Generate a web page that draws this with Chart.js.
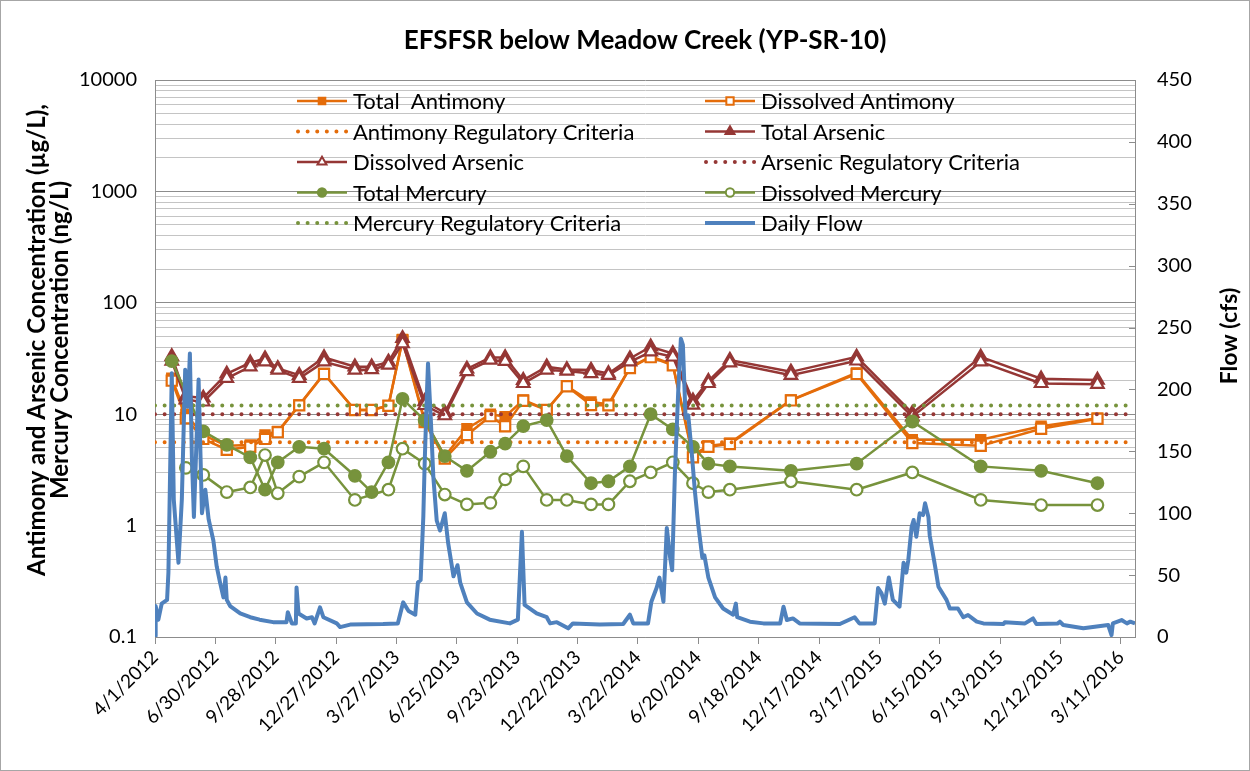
<!DOCTYPE html>
<html>
<head>
<meta charset="utf-8">
<title>EFSFSR below Meadow Creek (YP-SR-10)</title>
<script src="https://cdn.jsdelivr.net/npm/chart.js@4.4.0/dist/chart.umd.min.js"></script>
<style>
  html, body { margin: 0; padding: 0; background: #fff; }
  #wrap { width: 1250px; height: 771px; }
</style>
</head>
<body>
<div id="wrap"><canvas id="ysr10" width="1250" height="771"></canvas></div>
<script>
// sample dates and concentrations
var sampleDates = ['2012-04-26','2012-05-17','2012-06-12','2012-07-17','2012-08-21','2012-09-12','2012-10-01',
  '2012-11-02','2012-12-09','2013-01-24','2013-02-18','2013-03-15','2013-04-05','2013-05-08','2013-06-07',
  '2013-07-10','2013-08-14','2013-09-05','2013-10-02','2013-11-06','2013-12-06','2014-01-11','2014-02-06',
  '2014-03-10','2014-04-10','2014-05-13','2014-06-12','2014-07-05','2014-08-06','2014-11-05','2015-02-11',
  '2015-05-05','2015-08-15','2015-11-13','2016-02-05'];

var totalAntimony = [21, 10, 6.5, 5.2, 5.3, 6.5, 7.0, 12.1, 23.2, 10.9, 10.9, 11.9, 47, 8.8, 4.2,
  7.4, 10, 9.5, 13.4, 11.0, 17.9, 12.9, 12.3, 26.1, 33, 28, 4.3, 5.2, 5.5, 13.4, 23.5, 5.9, 5.9, 7.8, 9.2];
var dissolvedAntimony = [20, 9.2, 6.0, 4.8, 5.1, 6.0, 6.9, 12.0, 23.0, 10.9, 10.9, 11.9, 46, 8.5, 4.0,
  6.5, 9.6, 7.8, 13.2, 10.9, 17.8, 12.1, 12.0, 26.0, 32.5, 27.5, 4.1, 5.1, 5.4, 13.3, 23.0, 5.5, 5.2, 7.4, 9.1];
var totalArsenic = [33, 14.5, 14, 23, 29, 31.6, 25.8, 22.4, 32.3, 26.7, 26.7, 29.5, 48, 13, 10.3,
  25.5, 32.3, 32.3, 20.2, 26.7, 25.2, 24.9, 23.2, 31.6, 40.3, 35.1, 13.2, 19.8, 30.6, 24, 32.7, 10.2, 32.7, 20.8, 20.3];
var dissolvedArsenic = [30, 13.5, 12.9, 21, 26.7, 29.5, 24.9, 21, 29.5, 24.9, 25.2, 27.6, 43, 12, 9.7,
  24.2, 30.6, 29.8, 18.9, 24.9, 24.4, 23.2, 22.4, 29.5, 36.3, 32.7, 12.1, 18.9, 28.9, 22.4, 30.1, 9.5, 29.5, 18.9, 18.6];
var totalMercury = [30, null, 7.0, 5.3, 4.1, 2.1, 3.7, 5.1, 4.9, 2.8, 2.0, 3.7, 13.7, 8.8, 4.2,
  3.1, 4.6, 5.45, 7.8, 8.85, 4.2, 2.4, 2.5, 3.4, 10, 7.3, 5.1, 3.6, 3.4, 3.1, 3.6, 8.6, 3.4, 3.1, 2.4];
var dissolvedMercury = [null, 3.3, 2.85, 2.0, 2.2, 4.3, 1.95, 2.75, 3.7, 1.7, null, 2.1, 4.9, 3.6, 1.9,
  1.55, 1.6, 2.6, 3.4, 1.7, 1.7, 1.55, 1.55, 2.5, 3.0, 3.7, 2.4, 2.0, 2.1, 2.5, 2.1, 3.0, 1.7, 1.53, 1.53];

// regulatory criteria
var antimonyCriteria = 5.6;
var arsenicCriteria = 10;
var mercuryCriteria = 12;

// daily flow (cfs)
var flowDates = ['2012-04-01','2012-04-02','2012-04-06','2012-04-11','2012-04-19','2012-04-21','2012-04-26',
  '2012-04-29','2012-05-06','2012-05-11','2012-05-16','2012-05-20','2012-05-23','2012-05-26','2012-05-29',
  '2012-06-05','2012-06-10','2012-06-15','2012-06-20','2012-06-27','2012-07-02','2012-07-07','2012-07-12',
  '2012-07-15','2012-07-17','2012-07-22','2012-08-06','2012-08-21','2012-09-04','2012-09-24','2012-10-14',
  '2012-10-16','2012-10-22','2012-10-28','2012-10-29','2012-11-01','2012-11-13','2012-11-21','2012-11-25',
  '2012-12-03','2012-12-08','2012-12-28','2013-01-02','2013-01-17','2013-03-07','2013-03-29','2013-04-06',
  '2013-04-14','2013-04-24','2013-04-28','2013-05-02','2013-05-06','2013-05-08','2013-05-11','2013-05-13',
  '2013-05-17','2013-05-21','2013-05-26','2013-05-31','2013-06-07','2013-06-12','2013-06-20','2013-06-26',
  '2013-06-30','2013-07-10','2013-07-25','2013-08-13','2013-09-12','2013-09-24','2013-09-30','2013-10-04',
  '2013-10-22','2013-11-06','2013-11-11','2013-11-21','2013-12-08','2013-12-15','2014-01-24','2014-02-28',
  '2014-03-10','2014-03-15','2014-04-06','2014-04-11','2014-04-19','2014-04-23','2014-04-29','2014-05-04',
  '2014-05-09','2014-05-12','2014-05-16','2014-05-21','2014-05-25','2014-05-28','2014-06-01','2014-06-05',
  '2014-06-10','2014-06-15','2014-06-20','2014-06-26','2014-06-29','2014-07-05','2014-07-15','2014-07-27',
  '2014-08-11','2014-08-15','2014-08-17','2014-09-05','2014-09-25','2014-10-20','2014-10-25','2014-10-30',
  '2014-11-08','2014-11-18','2015-01-17','2015-02-08','2015-02-15','2015-03-10','2015-03-15','2015-03-20',
  '2015-03-25','2015-03-31','2015-04-06','2015-04-16','2015-04-22','2015-04-26','2015-04-29','2015-05-04',
  '2015-05-07','2015-05-11','2015-05-16','2015-05-21','2015-05-24','2015-05-29','2015-05-31','2015-06-08',
  '2015-06-13','2015-06-25','2015-06-30','2015-07-12','2015-07-20','2015-07-27','2015-08-09','2015-08-19',
  '2015-09-18','2015-09-20','2015-10-20','2015-11-01','2015-11-06','2015-12-08','2015-12-11','2015-12-16',
  '2016-01-15','2016-02-21','2016-02-26','2016-02-28','2016-03-12','2016-03-20','2016-03-25','2016-04-01'];
var flowValues = [1, 25, 14, 27, 30, 52, 213,
  111, 60, 111, 216, 186, 229, 145, 97,
  208, 100, 119, 95, 78, 57, 44, 32,
  48, 30, 25, 19, 16, 14, 12, 12,
  20, 11, 11, 40, 19, 15, 16, 11,
  24, 16, 11, 8, 10, 10.5, 11, 28,
  21, 18, 44, 46, 97, 140, 191, 221,
  178, 129, 94, 86, 100, 76, 49, 58,
  44, 28, 19, 14, 11, 14, 85, 26,
  19, 16, 11, 12, 7, 11, 10, 10.5,
  18, 11, 11, 28.5, 40, 48, 28.5, 88,
  64, 54, 131, 198, 241, 236, 177, 179,
  150, 117, 90, 64, 66, 48, 32, 23,
  18, 27, 16, 12.4, 11, 11, 24.5, 13.7,
  15, 11, 10.5, 16, 11, 11, 39.6, 35.5,
  27, 48, 30, 24.5, 60, 52, 62, 89,
  94.5, 81, 100, 98.5, 108, 97, 82, 57,
  40.6, 30, 23, 23, 16, 17.8, 12.4, 11,
  10.5, 12, 11, 15, 10.5, 11, 12.4, 9.7,
  7, 9.7, 1.6, 11, 13.7, 11, 12.4, 11];

// axes
var axisStart = '2012-04-01';
var axisEnd = '2016-04-01';
var dateTickStepDays = 90;
var leftDecades = [0.1, 1, 10, 100, 1000, 10000];
var rightMax = 450;
var rightStep = 50;

var chartTitle = 'EFSFSR below Meadow Creek (YP-SR-10)';
var leftTitle = ['Antimony and Arsenic Concentration (\u00b5g/L),', 'Mercury Concentration (ng/L)'];
var rightTitle = 'Flow (cfs)';

var orange = '#E46C0A', darkRed = '#953735', olive = '#77933C', flowBlue = '#4F81BD';
var FONT = 'Lato, "Open Sans", sans-serif';

function toDay(s) {
  var p = s.split('-');
  return Date.UTC(+p[0], +p[1] - 1, +p[2]) / 86400000;
}
function pairs(dates, vals) {
  return dates.map(function (d, i) { return { x: toDay(d), y: vals[i] }; });
}
function fmtDay(v) {
  var d = new Date(v * 86400000);
  return (d.getUTCMonth() + 1) + '/' + d.getUTCDate() + '/' + d.getUTCFullYear();
}

var xMin = toDay(axisStart), xMax = toDay(axisEnd);

function sampleSeries(label, vals, color, style, filled, r) {
  return {
    label: label, data: pairs(sampleDates, vals), yAxisID: 'y',
    borderColor: color, borderWidth: 2.5, spanGaps: true, tension: 0,
    pointStyle: style, pointRadius: r, pointBorderWidth: 2.2,
    pointBackgroundColor: filled ? color : '#ffffff', pointBorderColor: color,
    markerFilled: filled
  };
}
function criteriaSeries(label, value, color) {
  return {
    label: label, data: [{ x: xMin, y: value }, { x: xMax, y: value }], yAxisID: 'y',
    borderColor: color, borderWidth: 4, borderDash: [0.01, 9.6], borderCapStyle: 'round',
    pointRadius: 0
  };
}

var datasets = [
  sampleSeries('Total  Antimony', totalAntimony, orange, 'rect', true, 6.5),
  sampleSeries('Dissolved Antimony', dissolvedAntimony, orange, 'rect', false, 7.2),
  criteriaSeries('Antimony Regulatory Criteria', antimonyCriteria, orange),
  sampleSeries('Total Arsenic', totalArsenic, darkRed, 'triangle', true, 7.2),
  sampleSeries('Dissolved Arsenic', dissolvedArsenic, darkRed, 'triangle', false, 7.2),
  criteriaSeries('Arsenic Regulatory Criteria', arsenicCriteria, darkRed),
  sampleSeries('Total Mercury', totalMercury, olive, 'circle', true, 5.8),
  sampleSeries('Dissolved Mercury', dissolvedMercury, olive, 'circle', false, 5.8),
  criteriaSeries('Mercury Regulatory Criteria', mercuryCriteria, olive),
  {
    label: 'Daily Flow', data: pairs(flowDates, flowValues), yAxisID: 'y1',
    borderColor: flowBlue, borderWidth: 4, borderJoinStyle: 'round', pointRadius: 0, tension: 0
  }
];
// later series on top, flow drawn last
datasets.forEach(function (ds, i) { ds.order = datasets.length - i; });

function drawMarker(ctx, style, x, y, r, fill, stroke, bw) {
  ctx.beginPath();
  if (style === 'rect') {
    var s = r * Math.SQRT1_2;
    ctx.rect(x - s, y - s, 2 * s, 2 * s);
  } else if (style === 'triangle') {
    ctx.moveTo(x, y - r);
    ctx.lineTo(x + r * 0.866, y + r * 0.5);
    ctx.lineTo(x - r * 0.866, y + r * 0.5);
    ctx.closePath();
  } else {
    ctx.arc(x, y, r, 0, Math.PI * 2);
  }
  ctx.fillStyle = fill;
  ctx.fill();
  ctx.lineWidth = bw;
  ctx.strokeStyle = stroke;
  ctx.stroke();
}

var decorPlugin = {
  id: 'decor',
  afterDraw: function (chart) {
    var ctx = chart.ctx, area = chart.chartArea;
    ctx.save();
    ctx.fillStyle = '#000';
    ctx.textAlign = 'center';
    ctx.textBaseline = 'middle';

    // title
    ctx.font = 'bold 26px ' + FONT;
    ctx.fillText(chartTitle, (area.left + area.right) / 2, 41);

    // axis titles
    ctx.font = 'bold 24px ' + FONT;
    ctx.save();
    ctx.translate(37, 340);
    ctx.rotate(-Math.PI / 2);
    ctx.fillText(leftTitle[0], 0, 0);
    ctx.fillText(leftTitle[1], 0, 23);
    ctx.restore();
    ctx.font = 'bold 23px ' + FONT;
    ctx.save();
    ctx.translate(1230, 336);
    ctx.rotate(-Math.PI / 2);
    ctx.fillText(rightTitle, 0, 0);
    ctx.restore();

    // inside tick marks of flow axis
    var y1 = chart.scales.y1;
    ctx.strokeStyle = '#8c8c8c';
    ctx.lineWidth = 1;
    for (var v = 0; v <= rightMax; v += rightStep) {
      var py = Math.round(y1.getPixelForValue(v)) + 0.5;
      ctx.beginPath();
      ctx.moveTo(area.right - 6, py);
      ctx.lineTo(area.right, py);
      ctx.stroke();
    }

    // legend, two columns
    var cols = [297, 705], rows = [101, 131.5, 162, 192.5, 223];
    ctx.font = '22px ' + FONT;
    ctx.textAlign = 'left';
    chart.data.datasets.forEach(function (ds, i) {
      var x0 = cols[i % 2], y = rows[Math.floor(i / 2)];
      ctx.save();
      ctx.strokeStyle = ds.borderColor;
      ctx.lineWidth = ds.borderDash ? 4 : (ds.yAxisID === 'y1' ? 4 : 2.5);
      ctx.lineCap = ds.borderCapStyle || 'butt';
      ctx.setLineDash(ds.borderDash || []);
      ctx.beginPath();
      ctx.moveTo(x0 + (ds.borderDash ? 1 : 0), y);
      ctx.lineTo(x0 + 50, y);
      ctx.stroke();
      ctx.setLineDash([]);
      if (ds.pointRadius > 0) {
        drawMarker(ctx, ds.pointStyle, x0 + 25, y, ds.pointRadius * 0.72,
          ds.markerFilled ? ds.borderColor : '#ffffff', ds.borderColor, 2);
      }
      ctx.restore();
      ctx.fillStyle = '#000';
      ctx.fillText(ds.label, x0 + 56, y + 1);
    });

    // chart border
    ctx.strokeStyle = '#a6a6a6';
    ctx.lineWidth = 1;
    ctx.strokeRect(0.5, 0.5, chart.width - 1, chart.height - 1);
    ctx.restore();
  }
};

var ctx = document.getElementById('ysr10').getContext('2d');
var chart = new Chart(ctx, {
  type: 'line',
  data: { datasets: datasets },
  plugins: [decorPlugin],
  options: {
    responsive: false,
    animation: false,
    events: [],
    layout: { padding: { top: 80, left: 0, right: 0, bottom: 0 } },
    plugins: {
      legend: { display: false },
      title: { display: false },
      tooltip: { enabled: false }
    },
    scales: {
      x: {
        type: 'linear',
        min: xMin,
        max: xMax,
        afterBuildTicks: function (scale) {
          var t = [];
          for (var d = xMin; d <= xMax; d += dateTickStepDays) t.push({ value: d });
          scale.ticks = t;
        },
        afterFit: function (scale) {
          scale.height = 134;
          scale.paddingLeft = 0;
          scale.paddingRight = 0;
        },
        ticks: {
          autoSkip: false,
          maxRotation: 45,
          minRotation: 45,
          padding: 2,
          color: '#000',
          font: { family: FONT, size: 19 },
          callback: function (v) { return fmtDay(v); }
        },
        grid: { drawOnChartArea: false, drawTicks: true, tickLength: 7, color: '#8c8c8c' },
        border: { display: true, color: '#8c8c8c' }
      },
      y: {
        type: 'logarithmic',
        position: 'left',
        min: leftDecades[0],
        max: leftDecades[leftDecades.length - 1],
        afterBuildTicks: function (scale) {
          var t = [];
          leftDecades.forEach(function (d, i) {
            if (i < leftDecades.length - 1) {
              for (var m = 1; m < 10; m++) t.push({ value: d * m, major: m === 1 });
            } else {
              t.push({ value: d, major: true });
            }
          });
          scale.ticks = t;
        },
        afterFit: function (scale) {
          scale.width = 155;
          scale.paddingTop = 0;
          scale.paddingBottom = 0;
        },
        ticks: {
          autoSkip: false,
          padding: 18,
          color: '#000',
          font: { family: FONT, size: 20 },
          callback: function (v, i, ticks) {
            return ticks[i].major ? String(leftDecades[Math.round(Math.log10(ticks[i].value)) + 1]) : '';
          }
        },
        grid: {
          drawTicks: false,
          color: function (c) { return c.tick && c.tick.major ? '#8c8c8c' : '#c4c4c4'; },
          lineWidth: 1
        },
        border: { display: true, color: '#8c8c8c' }
      },
      y1: {
        type: 'linear',
        position: 'right',
        min: 0,
        max: rightMax,
        afterFit: function (scale) {
          scale.width = 115;
          scale.paddingTop = 0;
          scale.paddingBottom = 0;
        },
        ticks: {
          stepSize: rightStep,
          padding: 22,
          color: '#000',
          font: { family: FONT, size: 20 }
        },
        grid: { drawOnChartArea: false, drawTicks: false },
        border: { display: true, color: '#8c8c8c' }
      }
    }
  }
});
</script>
</body>
</html>
